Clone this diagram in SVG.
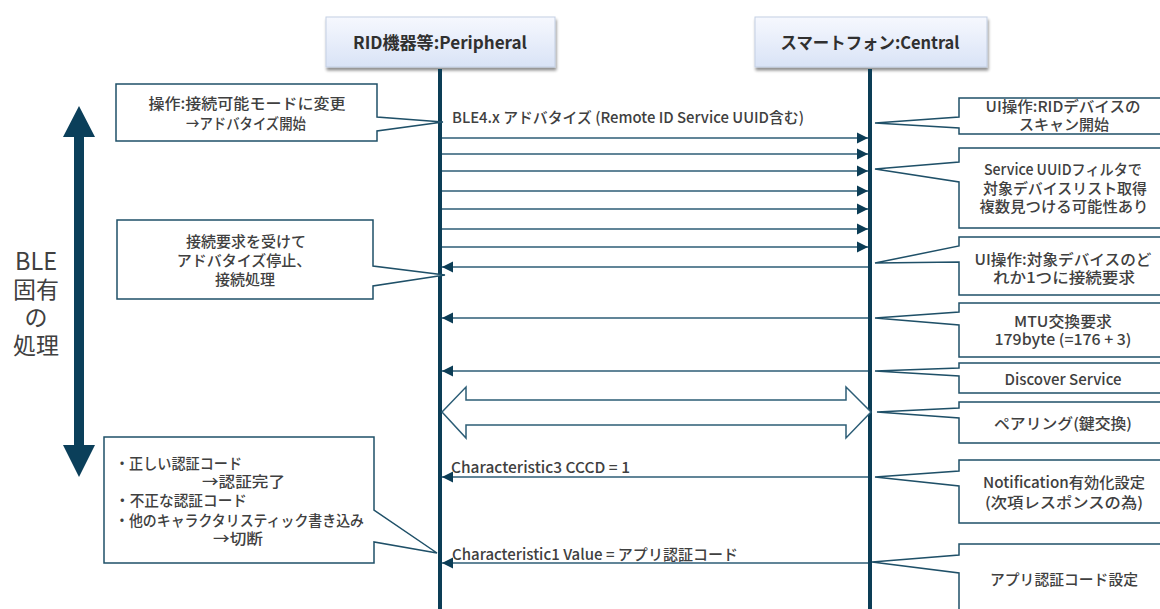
<svg xmlns="http://www.w3.org/2000/svg" width="1160" height="609" viewBox="0 0 1160 609">
<style>
text{font-family:"Noto Sans CJK JP","Noto Sans",sans-serif;fill:#404040;font-size:15px;font-weight:500}
.c{text-anchor:middle}
.hd{font-size:17px;font-weight:bold;fill:#303030;text-anchor:middle}
.note{fill:#fff;stroke:#1f5068;stroke-width:1.5;stroke-linejoin:miter}
.life{stroke:#0c3d56;stroke-width:4}
.msg{stroke:#2c5d76;stroke-width:1.5;fill:none}
.hbox{fill:url(#hg);stroke:#c3cfe3;stroke-width:1}
</style>
<defs>
<linearGradient id="hg" x1="0" y1="0" x2="0" y2="1">
<stop offset="0" stop-color="#f6f8fe"/>
<stop offset="1" stop-color="#d9e3f6"/>
</linearGradient>
<filter id="sh" x="-10%" y="-10%" width="130%" height="150%">
<feGaussianBlur in="SourceAlpha" stdDeviation="1.5"/>
<feOffset dx="1" dy="3" result="b"/>
<feComponentTransfer><feFuncA type="linear" slope="0.45"/></feComponentTransfer>
<feMerge><feMergeNode/><feMergeNode in="SourceGraphic"/></feMerge>
</filter>
<marker id="ah" markerUnits="userSpaceOnUse" markerWidth="12" markerHeight="12" refX="11" refY="6" orient="auto">
<path d="M0,0.5 L11,6 L0,11.5 Z" fill="#0c3d56"/>
</marker>
</defs>
<rect width="1160" height="609" fill="#fff"/>

<g id="ble-arrow">
<polygon points="79,106 95,137 84,137 84,445 95,445 79,477 63,445 74,445 74,137 63,137" fill="#0b3f5a"/>
<text class="c" style="font-size:23px;font-weight:400"><tspan x="36" y="270" style="font-size:24px" textLength="42" lengthAdjust="spacingAndGlyphs">BLE</tspan><tspan x="36" y="298">固有</tspan><tspan x="36" y="326">の</tspan><tspan x="36" y="354">処理</tspan></text>
</g>

<g id="peripheral">
<rect class="hbox" x="326" y="17" width="229" height="50" filter="url(#sh)"/>
<text class="hd" x="440" y="49" textLength="174" lengthAdjust="spacingAndGlyphs">RID機器等:Peripheral</text>
</g>
<g id="central">
<rect class="hbox" x="755" y="17" width="232" height="50" filter="url(#sh)"/>
<text class="hd" x="870" y="49" textLength="179" lengthAdjust="spacingAndGlyphs">スマートフォン:Central</text>
</g>

<g id="lifelines">
<line class="life" x1="440" y1="69" x2="440" y2="609"/>
<line class="life" x1="870" y1="69" x2="870" y2="609"/>
</g>

<g id="connectors">
<line class="msg" x1="442" y1="138" x2="868" y2="138" marker-end="url(#ah)"/>
<line class="msg" x1="442" y1="154" x2="868" y2="154" marker-end="url(#ah)"/>
<line class="msg" x1="442" y1="171" x2="868" y2="171" marker-end="url(#ah)"/>
<line class="msg" x1="442" y1="191" x2="868" y2="191" marker-end="url(#ah)"/>
<line class="msg" x1="442" y1="209" x2="868" y2="209" marker-end="url(#ah)"/>
<line class="msg" x1="442" y1="229" x2="868" y2="229" marker-end="url(#ah)"/>
<line class="msg" x1="442" y1="247" x2="868" y2="247" marker-end="url(#ah)"/>
<line class="msg" x1="868" y1="267" x2="442" y2="267" marker-end="url(#ah)"/>
<line class="msg" x1="868" y1="318" x2="442" y2="318" marker-end="url(#ah)"/>
<line class="msg" x1="868" y1="371" x2="442" y2="371" marker-end="url(#ah)"/>
<polygon points="442,412 466,387 466,400 846,400 846,387 871,412 846,438 846,425 466,425 466,438" fill="#fff" stroke="#2c5d76" stroke-width="1.5"/>
<line class="msg" x1="868" y1="477" x2="442" y2="477" marker-end="url(#ah)"/>
<line class="msg" x1="868" y1="563" x2="442" y2="563" marker-end="url(#ah)"/>
<text x="452" y="123" textLength="352" lengthAdjust="spacingAndGlyphs">BLE4.x アドバタイズ (Remote ID Service UUID含む)</text>
<text x="451" y="473" textLength="179" lengthAdjust="spacingAndGlyphs">Characteristic3 CCCD = 1</text>
<text x="452" y="560" textLength="286" lengthAdjust="spacingAndGlyphs">Characteristic1 Value = アプリ認証コード</text>
</g>

<g id="note-l1">
<path class="note" d="M116,84 H377 V117 L443,122 L377,131 V141 H116 Z"/>
<text class="c" x="247" y="109" textLength="197" lengthAdjust="spacingAndGlyphs">操作:接続可能モードに変更</text>
<text class="c" x="246" y="129" textLength="120" lengthAdjust="spacingAndGlyphs">→アドバタイズ開始</text>
</g>
<g id="note-l2">
<path class="note" d="M117,220 H373 V266 L445,275 L373,286 V299 H117 Z"/>
<text class="c" x="246" y="247">接続要求を受けて</text>
<text class="c" x="244" y="266">アドバタイズ停止、</text>
<text class="c" x="245" y="285">接続処理</text>
</g>
<g id="note-l3">
<path class="note" d="M104,437 H374 V510 L437,553 L374,542 V563 H104 Z"/>
<text x="115" y="469" textLength="127" lengthAdjust="spacingAndGlyphs">・正しい認証コード</text>
<text x="202" y="487" textLength="83" lengthAdjust="spacingAndGlyphs">→認証完了</text>
<text x="115" y="506" textLength="132" lengthAdjust="spacingAndGlyphs">・不正な認証コード</text>
<text x="115" y="526" textLength="249" lengthAdjust="spacingAndGlyphs">・他のキャラクタリスティック書き込み</text>
<text x="213" y="544" textLength="50" lengthAdjust="spacingAndGlyphs">→切断</text>
</g>

<g id="note-r1">
<path class="note" d="M959,98 H1170 V134 H959 V128 L875,123 L959,117 Z"/>
<text class="c" x="1063" y="112" textLength="155" lengthAdjust="spacingAndGlyphs">UI操作:RIDデバイスの</text>
<text class="c" x="1064" y="130">スキャン開始</text>
</g>
<g id="note-r2">
<path class="note" d="M959,148 H1170 V228 H959 V182 L875,169 L959,162 Z"/>
<text class="c" x="1063" y="175" textLength="158" lengthAdjust="spacingAndGlyphs">Service UUIDフィルタで</text>
<text class="c" x="1065" y="194" textLength="164" lengthAdjust="spacingAndGlyphs">対象デバイスリスト取得</text>
<text class="c" x="1064" y="212" textLength="169" lengthAdjust="spacingAndGlyphs">複数見つける可能性あり</text>
</g>
<g id="note-r3">
<path class="note" d="M959,237 H1170 V295 H959 V262 L875,263 L959,246 Z"/>
<text class="c" x="1063" y="265" textLength="177" lengthAdjust="spacingAndGlyphs">UI操作:対象デバイスのど</text>
<text class="c" x="1064" y="283" textLength="142" lengthAdjust="spacingAndGlyphs">れか1つに接続要求</text>
</g>
<g id="note-r4">
<path class="note" d="M959,303 H1170 V357 H959 V325 L875,318 L959,312 Z"/>
<text class="c" x="1063" y="327" textLength="98" lengthAdjust="spacingAndGlyphs">MTU交換要求</text>
<text class="c" x="1063" y="345" textLength="137" lengthAdjust="spacingAndGlyphs">179byte (=176 + 3)</text>
</g>
<g id="note-r5">
<path class="note" d="M959,363 H1170 V393 H959 V376 L875,371 L959,368 Z"/>
<text class="c" x="1063" y="385" textLength="117" lengthAdjust="spacingAndGlyphs">Discover Service</text>
</g>
<g id="note-r6">
<path class="note" d="M959,402 H1170 V443 H959 V418 L877,412 L959,408 Z"/>
<text class="c" x="1063" y="429" textLength="138" lengthAdjust="spacingAndGlyphs">ペアリング(鍵交換)</text>
</g>
<g id="note-r7">
<path class="note" d="M959,460 H1170 V523 H959 V486 L875,477 L959,471 Z"/>
<text class="c" x="1064" y="488" textLength="162" lengthAdjust="spacingAndGlyphs">Notification有効化設定</text>
<text class="c" x="1064" y="508" textLength="158" lengthAdjust="spacingAndGlyphs">(次項レスポンスの為)</text>
</g>
<g id="note-r8">
<path class="note" d="M959,544 H1170 V615 H959 V573 L872,562 L959,555 Z"/>
<text class="c" x="1064" y="585" textLength="148" lengthAdjust="spacingAndGlyphs">アプリ認証コード設定</text>
</g>
</svg>
